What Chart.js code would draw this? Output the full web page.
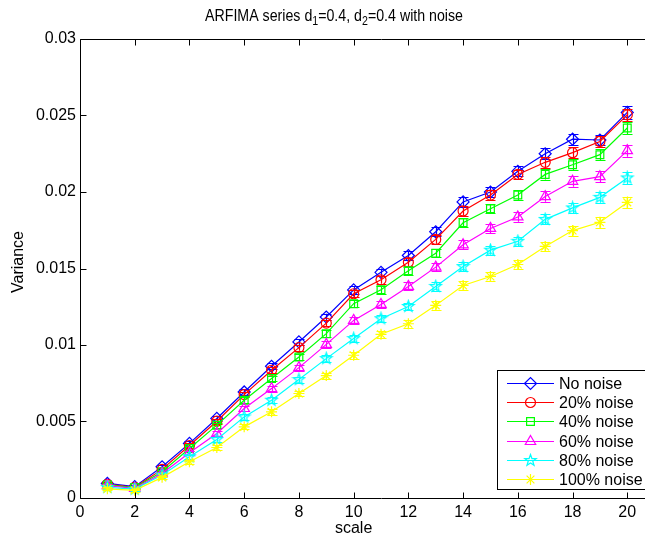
<!DOCTYPE html>
<html><head><meta charset="utf-8">
<script src="https://cdn.jsdelivr.net/npm/chart.js@4/dist/chart.umd.min.js"></script>
<style>
html,body{margin:0;padding:0;background:#fff;overflow:hidden;width:645px;height:541px}
#wrap{width:645px;height:541px;overflow:hidden;position:relative;background:#fff}
canvas{display:block}
</style></head>
<body><div id="wrap"><canvas id="c" width="700" height="541" style="width:700px;height:541px"></canvas></div>
<script>
// ---- data ----
const scales = [1,2,3,4,5,6,7,8,9,10,11,12,13,14,15,16,17,18,19,20];
const seriesNames = ['No noise','20% noise','40% noise','60% noise','80% noise','100% noise'];
const noNoise   = [0.00095,0.00074,0.00204,0.00357,0.00520,0.00693,0.00861,0.01020,0.01183,0.01360,0.01475,0.01585,0.01740,0.01935,0.02000,0.02135,0.02250,0.02345,0.02340,0.02520];
const noise20   = [0.00090,0.00070,0.00187,0.00343,0.00502,0.00676,0.00835,0.00983,0.01143,0.01335,0.01426,0.01541,0.01690,0.01876,0.01980,0.02115,0.02194,0.02257,0.02330,0.02504];
const noise40   = [0.00085,0.00068,0.00172,0.00324,0.00476,0.00639,0.00781,0.00922,0.01074,0.01270,0.01361,0.01485,0.01600,0.01799,0.01890,0.01980,0.02115,0.02178,0.02244,0.02418];
const noise60   = [0.00080,0.00063,0.00160,0.00296,0.00422,0.00585,0.00715,0.00852,0.01004,0.01161,0.01265,0.01383,0.01509,0.01655,0.01762,0.01837,0.01970,0.02070,0.02100,0.02270];
const noise80   = [0.00070,0.00058,0.00150,0.00270,0.00383,0.00530,0.00639,0.00774,0.00911,0.01042,0.01172,0.01252,0.01383,0.01513,0.01620,0.01678,0.01821,0.01896,0.01965,0.02092];
const noise100  = [0.00060,0.00050,0.00135,0.00237,0.00330,0.00465,0.00563,0.00683,0.00800,0.00933,0.01070,0.01139,0.01259,0.01389,0.01448,0.01526,0.01644,0.01748,0.01802,0.01932];
const errNoNoise  = [0.00012,0.00010,0.00012,0.00015,0.00016,0.00018,0.00020,0.00020,0.00022,0.00025,0.00025,0.00027,0.00030,0.00030,0.00030,0.00032,0.00035,0.00035,0.00035,0.00042];
const errNoise20  = [0.00012,0.00010,0.00012,0.00015,0.00016,0.00018,0.00020,0.00020,0.00022,0.00024,0.00025,0.00027,0.00028,0.00030,0.00030,0.00032,0.00034,0.00035,0.00035,0.00040];
const errNoise40  = [0.00011,0.00010,0.00012,0.00014,0.00016,0.00018,0.00019,0.00020,0.00022,0.00024,0.00025,0.00026,0.00028,0.00030,0.00030,0.00032,0.00034,0.00035,0.00035,0.00040];
const errNoise60  = [0.00011,0.00010,0.00012,0.00014,0.00016,0.00018,0.00019,0.00020,0.00022,0.00024,0.00025,0.00026,0.00028,0.00030,0.00030,0.00032,0.00034,0.00035,0.00035,0.00040];
const errNoise80  = [0.00010,0.00009,0.00011,0.00014,0.00015,0.00017,0.00018,0.00020,0.00021,0.00023,0.00024,0.00025,0.00027,0.00029,0.00030,0.00031,0.00033,0.00034,0.00035,0.00040];
const errNoise100 = [0.00010,0.00009,0.00011,0.00013,0.00015,0.00016,0.00018,0.00019,0.00020,0.00022,0.00023,0.00025,0.00027,0.00028,0.00029,0.00030,0.00032,0.00033,0.00035,0.00038];
const xTickLabels = ['0','2','4','6','8','10','12','14','16','18','20','22'];
const yTickLabels = ['0','0.005','0.01','0.015','0.02','0.025','0.03'];

const FONT = '"Liberation Sans", Arial, Helvetica, sans-serif';
const FS = 16;

function makePentagram(color, r){
  const s = Math.ceil(2*r+3);
  const c = document.createElement('canvas'); c.width = s; c.height = s;
  const g = c.getContext('2d'); g.strokeStyle = color; g.lineWidth = 1.2;
  g.beginPath();
  for (let i=0;i<10;i++){
    const a = -Math.PI/2 + i*Math.PI/5;
    const rr = (i%2===0) ? r : r*0.40;
    const px = s/2 + rr*Math.cos(a), py = s/2 + rr*Math.sin(a);
    if (i===0) g.moveTo(px,py); else g.lineTo(px,py);
  }
  g.closePath(); g.stroke();
  return c;
}
const pent = makePentagram('#00ffff', 6);

const values = [noNoise, noise20, noise40, noise60, noise80, noise100];
const errs = [errNoNoise, errNoise20, errNoise40, errNoise60, errNoise80, errNoise100];
const colors = ['#0000ff','#ff0000','#00ff00','#ff00ff','#00ffff','#ffff00'];
const styles = ['rectRot','circle','rect','triangle',pent,'star'];
const radii = [6,5,5.5,6,6,5.5];

const datasets = values.map((v,k)=>({
  label: seriesNames[k],
  data: scales.map((s,i)=>({x:s, y:v[i]})),
  borderColor: colors[k],
  backgroundColor: colors[k],
  borderWidth: 1.2,
  pointStyle: styles[k],
  pointRadius: radii[k],
  pointBorderColor: colors[k],
  pointBackgroundColor: 'rgba(0,0,0,0)',
  pointBorderWidth: 1.2,
  tension: 0,
  order: 6-k,
  errs: errs[k]
}));

const errorBars = {
  id:'errorBars',
  afterDatasetDraw(chart, args){
    const ds = chart.data.datasets[args.index];
    const meta = args.meta; const ys = chart.scales.y; const ctx = chart.ctx;
    ctx.save(); ctx.strokeStyle = ds.borderColor; ctx.lineWidth = 1.2;
    meta.data.forEach((pt,i)=>{
      const v = ds.data[i].y, e = ds.errs[i];
      const y1 = ys.getPixelForValue(v+e), y2 = ys.getPixelForValue(v-e);
      const x = Math.round(pt.x)+0.5;
      ctx.beginPath();
      ctx.moveTo(x,y1); ctx.lineTo(x,y2);
      ctx.moveTo(x-5,Math.round(y1)+0.5); ctx.lineTo(x+5,Math.round(y1)+0.5);
      ctx.moveTo(x-5,Math.round(y2)+0.5); ctx.lineTo(x+5,Math.round(y2)+0.5);
      ctx.stroke();
    });
    ctx.restore();
  }
};

function drawMarker(ctx, style, r, x, y, color){
  if (Chart.helpers && Chart.helpers.drawPoint){
    ctx.save(); ctx.strokeStyle = color; ctx.fillStyle='rgba(0,0,0,0)'; ctx.lineWidth=1.2;
    Chart.helpers.drawPoint(ctx, {pointStyle: style, radius: r, rotation: 0, borderWidth:1.2}, x, y);
    ctx.restore();
  }
}

const axesBox = {
  id:'axesBox',
  afterDraw(chart){
    const ctx = chart.ctx, a = chart.chartArea, xs = chart.scales.x, ys = chart.scales.y;
    ctx.save();
    ctx.strokeStyle = '#000'; ctx.lineWidth = 1;
    const L = Math.round(a.left)+0.5, R = Math.round(a.right)+0.5, T = Math.round(a.top)+0.5, B = Math.round(a.bottom)+0.5;
    ctx.beginPath(); ctx.rect(L, T, R-L, B-T); ctx.stroke();
    ctx.beginPath();
    xs.ticks.forEach(t=>{
      const x = Math.round(xs.getPixelForValue(t.value))+0.5;
      ctx.moveTo(x,B); ctx.lineTo(x,B-6);
      ctx.moveTo(x,T); ctx.lineTo(x,T+6);
    });
    ys.ticks.forEach(t=>{
      const y = Math.round(ys.getPixelForValue(t.value))+0.5;
      ctx.moveTo(L,y); ctx.lineTo(L+6,y);
      ctx.moveTo(R,y); ctx.lineTo(R-6,y);
    });
    ctx.stroke();

    // legend
    const bx = 497.5, by = 370.5, bw = 175, bh = 119;
    ctx.fillStyle = '#fff'; ctx.fillRect(bx, by, bw, bh);
    ctx.strokeStyle = '#000'; ctx.strokeRect(bx, by, bw, bh);
    ctx.font = FS + 'px ' + FONT; ctx.textBaseline = 'middle'; ctx.textAlign='left';
    chart.data.datasets.forEach((ds,k)=>{
      const y = Math.round(by + 12.5 + k*19.2) + 0.5;
      ctx.strokeStyle = ds.borderColor; ctx.lineWidth = 1.2;
      ctx.beginPath(); ctx.moveTo(507, y); ctx.lineTo(554, y); ctx.stroke();
      drawMarker(ctx, ds.pointStyle, ds.pointRadius, 530.5, y, ds.borderColor);
      ctx.fillStyle = '#000';
      ctx.fillText(ds.label, 559, y+1);
    });

    // titles
    ctx.fillStyle = '#000';
    ctx.textBaseline = 'alphabetic'; ctx.textAlign = 'left';
    const TF = 16;
    const parts = [['ARFIMA series d',0],['1',1],['=0.4, d',0],['2',1],['=0.4 with noise',0]];
    const mainF = TF + 'px ' + FONT, subF = Math.round(TF*0.72) + 'px ' + FONT;
    let w = 0;
    parts.forEach(p=>{ ctx.font = p[1] ? subF : mainF; w += ctx.measureText(p[0]).width; });
    const targetW = 258, sx = Math.min(1, targetW / w);
    ctx.save();
    ctx.translate(334 - targetW/2, 0);
    ctx.scale(sx, 1);
    let x0 = 0;
    parts.forEach(p=>{
      ctx.font = p[1] ? subF : mainF;
      ctx.fillText(p[0], x0, p[1] ? 25 : 20.5);
      x0 += ctx.measureText(p[0]).width;
    });
    ctx.restore();
    ctx.font = FS + 'px ' + FONT;
    ctx.textAlign = 'center'; ctx.textBaseline = 'middle';
    ctx.fillText('scale', (xs.getPixelForValue(0)+xs.getPixelForValue(20))/2, 529);
    ctx.save(); ctx.translate(19, 262); ctx.rotate(-Math.PI/2);
    ctx.fillText('Variance', 0, 0); ctx.restore();
    ctx.restore();
  }
};

new Chart(document.getElementById('c'), {
  type: 'line',
  data: { datasets },
  options: {
    responsive: false,
    animation: false,
    devicePixelRatio: 1,
    layout: { padding: { left: 0, right: 18, top: 39, bottom: 0 } },
    plugins: { legend: { display: false }, title: { display: false }, tooltip: { enabled: false } },
    scales: {
      x: {
        type: 'linear', min: 0, max: 22,
        afterFit(s){ s.height = 43; },
        grid: { display: false, drawTicks: false },
        border: { display: false },
        ticks: { stepSize: 2, padding: 5, color: '#000', font: { family: FONT, size: FS },
          callback: (v, i) => xTickLabels[i] }
      },
      y: {
        type: 'linear', min: 0, max: 0.03,
        afterFit(s){ s.width = 80; },
        grid: { display: false, drawTicks: false },
        border: { display: false },
        ticks: { stepSize: 0.005, padding: 4, color: '#000', font: { family: FONT, size: FS },
          callback: (v, i) => yTickLabels[i] }
      }
    }
  },
  plugins: [errorBars, axesBox]
});
</script>
</body></html>
